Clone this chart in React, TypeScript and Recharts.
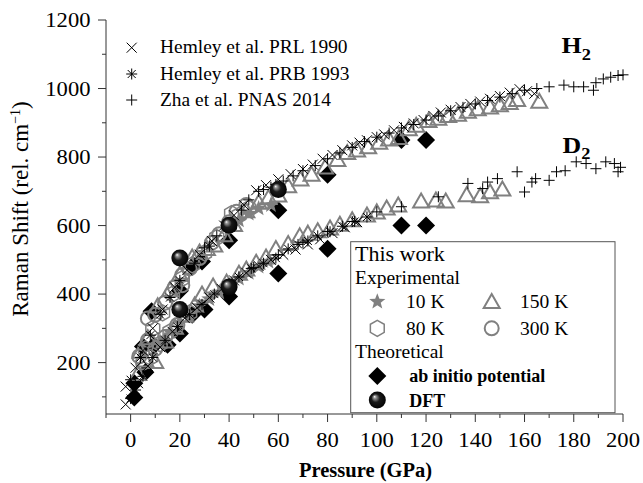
import { Scatter, ScatterChart, XAxis, YAxis } from 'recharts'

type Pt = [number, number]

// pressure (GPa), Raman shift (rel. cm-1)
const hemley1990H2: Pt[] = [
  [-2, 130], [2, 185], [5, 235], [9, 300], [13, 355], [18, 420], [23, 470], [28, 515], [33, 555],
  [38, 600], [42, 630], [46, 660], [51, 703], [55, 718], [60, 735], [65, 750], [70, 765], [74, 778],
  [78, 795], [82, 806], [86, 820], [90, 834], [93, 842], [96, 849], [100, 858], [103, 866], [107, 878],
  [111, 888], [115, 898], [119, 908], [123, 920], [126, 930], [130, 938], [134, 946], [138, 955],
  [142, 962], [146, 970], [150, 978], [154, 988], [158, 998], [161, 992], [164, 985],
]
const hemley1990D2: Pt[] = [
  [-2, 78], [3, 140], [7, 190], [12, 245], [17, 290], [22, 330], [27, 360], [32, 390], [37, 415],
  [42, 440], [47, 462], [52, 482], [57, 500], [62, 515], [67, 530], [72, 545], [77, 560], [82, 578],
  [87, 595], [92, 610],
]
const hemley1993H2: Pt[] = [
  [0, 150], [4, 215], [8, 280], [12, 340], [16, 390], [20, 440], [26, 490], [32, 540],
]
const hemley1993D2: Pt[] = [
  [0, 95], [2, 120], [5, 160], [9, 215], [14, 265], [19, 305], [24, 340], [29, 370], [34, 400],
  [39, 425], [44, 450], [49, 475], [54, 490], [59, 505], [64, 532], [68, 545], [72, 555], [76, 570],
  [81, 582], [86, 598], [91, 612], [96, 625],
]
const zha2014H2: Pt[] = [
  [30, 535], [35, 570], [40, 605], [45, 645], [48, 675], [52, 700], [54, 705], [57, 712], [59, 720],
  [62, 730], [66, 745], [70, 760], [75, 775], [80, 795], [85, 812], [90, 828], [95, 845], [100, 858],
  [105, 870], [110, 885], [115, 895], [120, 908], [125, 920], [130, 935], [135, 945], [140, 955],
  [145, 965], [150, 975], [155, 985], [160, 995], [165, 1000], [170, 1005], [176, 1010], [180, 1005],
  [184, 1005], [188, 995], [189, 1017], [192, 1028], [195, 1033], [198, 1038], [200, 1040],
]
const zha2014D2: Pt[] = [
  [40, 430], [50, 478], [60, 515], [70, 550], [80, 583], [90, 612], [100, 640], [110, 655], [125, 684],
  [137, 723], [143, 708], [145, 727], [149, 737], [157, 757], [160, 698], [163, 727], [164.5, 737],
  [170, 732], [173, 757], [176.5, 760], [181, 786], [185, 781], [189, 766], [193, 786], [196.5, 781],
  [198, 757], [199, 770],
]
const k10: Pt[] = [
  [12, 260], [16, 290], [20, 315], [24, 340], [28, 365], [32, 385], [36, 405], [40, 425], [44, 445],
  [48, 462], [52, 480], [56, 495], [44, 615], [48, 635], [52, 650], [57, 660],
]
const k80: Pt[] = [
  [6, 240], [9, 300], [13, 345], [17, 400], [21, 445], [25, 485], [30, 520], [35, 565], [40, 600],
  [41, 635], [44, 630], [48, 650], [8, 215], [12, 255], [16, 290], [24, 345],
]
const k150H2: Pt[] = [
  [4, 230], [7, 270], [11, 363], [16, 410], [20, 455], [25, 505], [28, 520], [31, 530], [34, 540],
  [38, 570], [42, 600], [47, 640], [52, 665], [56, 679], [60, 686], [64, 713], [69, 733], [73.5, 747],
  [79, 768], [84, 790], [88, 810], [92, 818], [96.5, 827], [101, 840], [105, 850], [109, 854],
  [113, 880], [116, 890], [121, 904], [125, 910], [129, 918], [133, 922], [137, 931], [141, 938],
  [146, 943], [150, 950], [154, 956], [157, 965], [166, 960],
]
const k150D2: Pt[] = [
  [3, 165], [6, 205], [10, 200], [14, 260], [18, 300], [22, 335], [26, 365], [29, 397], [33.5, 421],
  [39, 432], [44, 458], [47, 470], [51, 490], [55, 505], [59, 530], [64, 545], [68.7, 567], [72, 575],
  [76, 582], [81, 590], [85, 601], [90, 614], [96, 628], [100, 637], [104, 648], [108.7, 657],
  [118, 669], [124, 672], [128, 669], [136.5, 687], [142, 684], [146, 696], [151, 704],
]
const k300: Pt[] = [
  [3.5, 218], [7, 265], [7, 329], [10, 340], [14, 375], [18, 420], [21, 426], [21, 456], [24, 475],
  [28, 505], [33, 550], [36, 575], [40, 610], [43, 640], [47, 660], [5, 200], [10, 240], [14, 275],
  [19, 310],
]
const abInitio: Pt[] = [
  [1.5, 140], [5, 247], [8.5, 350], [20, 410], [25, 480], [29, 495], [40, 557], [60, 645], [80, 748],
  [110, 850], [120, 850], [1.5, 98], [6, 172], [9.5, 250], [15, 252], [20, 285], [25, 340], [30, 355],
  [40, 393], [60, 460], [80, 532], [110, 600], [120, 600],
]
const dft: Pt[] = [[20, 505], [40, 601], [60, 705], [20, 355], [40, 421]]

const xTicks = [-10, 0, 10, 20, 30, 40, 50, 60, 70, 80, 90, 100, 110, 120, 130, 140, 150, 160, 170, 180, 190, 200]
const yTicks = [100, 200, 300, 400, 500, 600, 700, 800, 900, 1000, 1100, 1200]

const rows = (pts: Pt[]) => pts.map(([p, v]) => ({ p, v }))

const FONT = 'Liberation Serif, Times New Roman, serif'
const GRAY = '#808080'
const AXIS = '#333'

const Cross = ({ cx, cy }: any) => (
  <path d={`M${cx - 5},${cy - 5}L${cx + 5},${cy + 5}M${cx - 5},${cy + 5}L${cx + 5},${cy - 5}`} stroke="#000" strokeWidth={1} />
)
const Asterisk = ({ cx, cy }: any) => (
  <path
    d={`M${cx - 4},${cy - 4}L${cx + 4},${cy + 4}M${cx - 4},${cy + 4}L${cx + 4},${cy - 4}M${cx},${cy - 5.5}L${cx},${cy + 5.5}M${cx - 5.5},${cy}L${cx + 5.5},${cy}`}
    stroke="#000"
    strokeWidth={1}
  />
)
const Plus = ({ cx, cy }: any) => (
  <path d={`M${cx - 5.5},${cy}L${cx + 5.5},${cy}M${cx},${cy - 5.5}L${cx},${cy + 5.5}`} stroke="#000" strokeWidth={1} />
)
const Diamond = ({ cx, cy }: any) => (
  <polygon points={`${cx},${cy - 9} ${cx + 9},${cy} ${cx},${cy + 9} ${cx - 9},${cy}`} fill="#000" />
)
const Sphere = ({ cx, cy }: any) => <circle cx={cx} cy={cy} r={8.5} fill="url(#sphereGrad)" />
const Star = ({ cx, cy }: any) => {
  const pts = Array.from({ length: 10 }, (_, i) => {
    const a = -Math.PI / 2 + (i * Math.PI) / 5
    const r = i % 2 ? 3.6 : 8.5
    return `${cx + r * Math.cos(a)},${cy + r * Math.sin(a)}`
  }).join(' ')
  return <polygon points={pts} fill={GRAY} />
}
const Hexagon = ({ cx, cy }: any) => {
  const pts = Array.from({ length: 6 }, (_, i) => {
    const a = -Math.PI / 2 + (i * Math.PI) / 3
    return `${cx + 8 * Math.cos(a)},${cy + 8 * Math.sin(a)}`
  }).join(' ')
  return <polygon points={pts} fill="none" stroke={GRAY} strokeWidth={1.5} />
}
const Triangle = ({ cx, cy }: any) => (
  <polygon points={`${cx},${cy - 8.5} ${cx + 8},${cy + 5.5} ${cx - 8},${cy + 5.5}`} fill="none" stroke={GRAY} strokeWidth={2} />
)
const Ring = ({ cx, cy }: any) => <circle cx={cx} cy={cy} r={7} fill="none" stroke={GRAY} strokeWidth={2} />

const shapeOf = (C: any) => (props: any) => <C cx={props.cx} cy={props.cy} />

const makeTick = (side: 'bottom' | 'top' | 'left' | 'right', step: number, labels: boolean) => (props: any) => {
  const { x, y, payload } = props
  const major = payload.value % step === 0
  const len = major ? 8 : 4
  const line =
    side === 'bottom' || side === 'top' ? (
      <line x1={x} x2={x} y1={y} y2={y + len} />
    ) : (
      <line x1={x} x2={x - len} y1={y} y2={y} />
    )
  let label = null
  if (labels && major) {
    const tx = side === 'bottom' ? x : x - 15.5
    const ty = side === 'bottom' ? y + 33 : y + 7
    label = (
      <text
        transform={`translate(${tx},${ty}) scale(1.13,1)`}
        textAnchor={side === 'bottom' ? 'middle' : 'end'}
        fontSize={20}
        fill="#000"
        stroke="none"
        style={{ fontFamily: FONT }}
      >
        {payload.value}
      </text>
    )
  }
  return (
    <g stroke={AXIS} strokeWidth={1}>
      {line}
      {label}
    </g>
  )
}

function Overlay() {
  return (
    <svg
      width={643}
      height={483}
      style={{ position: 'absolute', left: 0, top: 0, pointerEvents: 'none', fontFamily: FONT }}
      fill="#000"
    >
      <defs>
        <radialGradient id="sphereGrad" cx="0.5" cy="0.5" r="0.55" fx="0.33" fy="0.3">
          <stop offset="0%" stopColor="#ffffff" />
          <stop offset="14%" stopColor="#9a9a9a" />
          <stop offset="45%" stopColor="#1a1a1a" />
          <stop offset="100%" stopColor="#000000" />
        </radialGradient>
      </defs>

      <Cross cx={131.7} cy={47.7} />
      <Asterisk cx={131.7} cy={74} />
      <Plus cx={131.7} cy={100} />
      <g fontSize={18}>
        <text transform="translate(160,53.3) scale(1.08,1)">Hemley et al. PRL 1990</text>
        <text transform="translate(160,80) scale(1.08,1)">Hemley et al. PRB 1993</text>
        <text transform="translate(160,106) scale(1.08,1)">Zha et al. PNAS 2014</text>
      </g>

      <text transform="translate(561.5,53.3) scale(1.15,1)" fontSize={22.5} fontWeight="bold">
        H<tspan dy={6.5} fontSize={16}>2</tspan>
      </text>
      <text transform="translate(562.5,153.3) scale(1.15,1)" fontSize={22.5} fontWeight="bold">
        D<tspan dy={6} fontSize={16}>2</tspan>
      </text>

      <rect x={350.7} y={241.7} width={264.3} height={171} fill="#fff" stroke="#555" strokeWidth={1} />
      <text x={355} y={260.7} fontSize={22}>This work</text>
      <text x={355} y={284} fontSize={19.5}>Experimental</text>
      <text x={406} y={308.3} fontSize={19.5}>10 K</text>
      <text x={520} y={308.3} fontSize={19.5}>150 K</text>
      <text x={406} y={335} fontSize={19.5}>80 K</text>
      <text x={520} y={335} fontSize={19.5}>300 K</text>
      <text x={355} y={358.3} fontSize={19.5}>Theoretical</text>
      <text x={409.3} y={381.7} fontSize={18} fontWeight="bold">ab initio potential</text>
      <text x={409.3} y={406.7} fontSize={18} fontWeight="bold">DFT</text>
      <Star cx={377.3} cy={301.7} />
      <Triangle cx={491.7} cy={302.5} />
      <Hexagon cx={377.3} cy={328.3} />
      <Ring cx={491.7} cy={328.3} />
      <Diamond cx={377.3} cy={376} />
      <Sphere cx={377.3} cy={400} />

      <text transform="translate(28,209) rotate(-90)" textAnchor="middle" fontSize={23}>
        Raman Shift (rel. cm<tspan dy={-8} fontSize={14}>−1</tspan><tspan dy={8}>)</tspan>
      </text>
      <text x={365.5} y={477} textAnchor="middle" fontSize={20.5} fontWeight="bold">
        Pressure (GPa)
      </text>
    </svg>
  )
}

export default function App() {
  return (
    <div
      style={{
        position: 'absolute',
        left: 0,
        top: 0,
        width: 643,
        height: 483,
        background: '#fff',
        fontFamily: FONT,
      }}
    >
      <ScatterChart width={643} height={483} margin={{ top: 20, right: 20, bottom: 0, left: 0 }}>
        <XAxis
          dataKey="p"
          type="number"
          domain={[-10, 200]}
          ticks={xTicks}
          interval={0}
          height={69}
          tickSize={0}
          tickMargin={0}
          axisLine={{ stroke: AXIS }}
          tickLine={false}
          tick={makeTick('bottom', 20, true)}
        />
        <XAxis
          xAxisId="top"
          orientation="top"
          dataKey="p"
          type="number"
          domain={[-10, 200]}
          ticks={xTicks}
          interval={0}
          height={0}
          tickSize={0}
          tickMargin={0}
          axisLine={{ stroke: AXIS }}
          tickLine={false}
          tick={makeTick('top', 20, false)}
        />
        <YAxis
          dataKey="v"
          type="number"
          domain={[50, 1200]}
          ticks={yTicks}
          interval={0}
          width={106}
          tickSize={0}
          tickMargin={0}
          axisLine={{ stroke: AXIS }}
          tickLine={false}
          tick={makeTick('left', 200, true)}
        />
        <YAxis
          yAxisId="right"
          orientation="right"
          dataKey="v"
          type="number"
          domain={[50, 1200]}
          ticks={yTicks}
          interval={0}
          width={0}
          tickSize={0}
          tickMargin={0}
          axisLine={{ stroke: AXIS }}
          tickLine={false}
          tick={makeTick('right', 200, false)}
        />
        <Scatter data={rows(abInitio)} shape={shapeOf(Diamond)} isAnimationActive={false} />
        <Scatter data={rows(k10)} shape={shapeOf(Star)} isAnimationActive={false} />
        <Scatter data={rows(k80)} shape={shapeOf(Hexagon)} isAnimationActive={false} />
        <Scatter data={rows(k300)} shape={shapeOf(Ring)} isAnimationActive={false} />
        <Scatter data={rows(k150H2)} shape={shapeOf(Triangle)} isAnimationActive={false} />
        <Scatter data={rows(k150D2)} shape={shapeOf(Triangle)} isAnimationActive={false} />
        <Scatter data={rows(zha2014H2)} shape={shapeOf(Plus)} isAnimationActive={false} />
        <Scatter data={rows(zha2014D2)} shape={shapeOf(Plus)} isAnimationActive={false} />
        <Scatter data={rows(hemley1990H2)} shape={shapeOf(Cross)} isAnimationActive={false} />
        <Scatter data={rows(hemley1990D2)} shape={shapeOf(Cross)} isAnimationActive={false} />
        <Scatter data={rows(hemley1993H2)} shape={shapeOf(Asterisk)} isAnimationActive={false} />
        <Scatter data={rows(hemley1993D2)} shape={shapeOf(Asterisk)} isAnimationActive={false} />
        <Scatter data={rows(dft)} shape={shapeOf(Sphere)} isAnimationActive={false} />
      </ScatterChart>
      <Overlay />
    </div>
  )
}
